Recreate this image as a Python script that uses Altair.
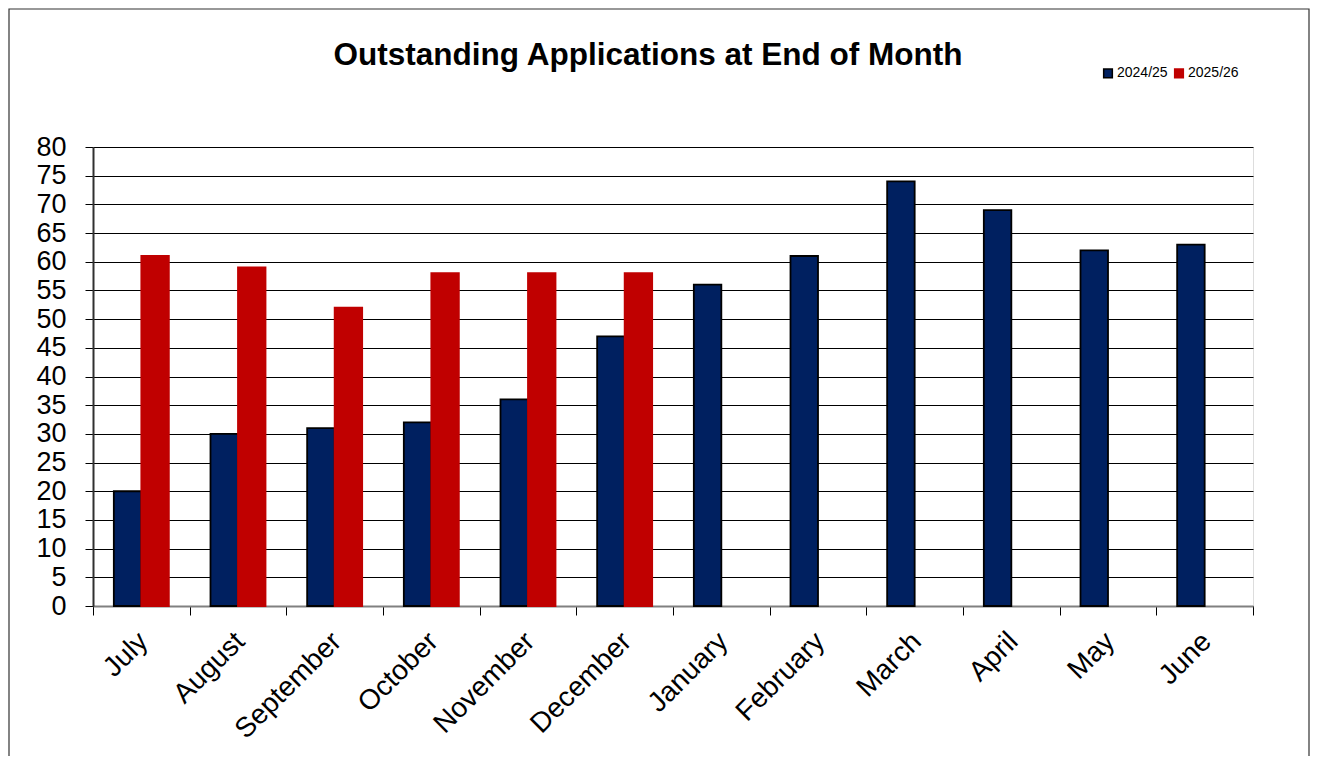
import altair as alt
import pandas as pd

months = ["July", "August", "September", "October", "November", "December",
          "January", "February", "March", "April", "May", "June"]
series_a = "2024/25"
series_b = "2025/26"
values_a = [20, 30, 31, 32, 36, 47, 56, 61, 74, 69, 62, 63]
values_b = [61, 59, 52, 58, 58, 58]
title_text = "Outstanding Applications at End of Month"

rows = []
for i, m in enumerate(months):
    rows.append({"month": m, "series": series_a, "value": values_a[i]})
    if i < len(values_b):
        rows.append({"month": m, "series": series_b, "value": values_b[i]})
df = pd.DataFrame(rows)

FONT = "Liberation Sans"
W, H = 1160, 459

leg = dict(orient="none", legendX=1008, legendY=-81, direction="horizontal",
           labelFont=FONT, labelFontSize=14, labelColor="black",
           symbolType="square", symbolSize=75, symbolStrokeWidth=1.5,
           columnPadding=3, labelOffset=2)

bars = alt.Chart(df).mark_bar(strokeWidth=1.8).encode(
    x=alt.X("month:N", sort=months, title=None,
            scale=alt.Scale(paddingInner=0, paddingOuter=0),
            axis=alt.Axis(labelAngle=-45, labelAlign="right", labelBaseline="middle",
                          labelFontSize=28, labelFont=FONT, labelColor="black",
                          labelPadding=22, labelOffset=2,
                          tickBand="extent", tickSize=9, tickColor="black",
                          domainColor="#808080", domainWidth=2, grid=False)),
    xOffset=alt.XOffset("series:N", sort=[series_a, series_b],
                        scale=alt.Scale(paddingInner=0, paddingOuter=0.757)),
    y=alt.Y("value:Q", title=None,
            scale=alt.Scale(domain=[0, 80], nice=False),
            axis=alt.Axis(values=list(range(0, 85, 5)), labelFontSize=27, labelFont=FONT,
                          labelColor="black", labelPadding=19, tickSize=8, tickColor="black",
                          domainColor="#303030", domainWidth=2,
                          grid=True, gridColor="black", gridWidth=1)),
    color=alt.Color("series:N", sort=[series_a, series_b], title=None,
                    scale=alt.Scale(domain=[series_a, series_b], range=["#002060", "#C00000"]),
                    legend=alt.Legend(**leg)),
    stroke=alt.Stroke("series:N", sort=[series_a, series_b], title=None,
                      scale=alt.Scale(domain=[series_a, series_b], range=["#000000", "#C00000"]),
                      legend=alt.Legend(**leg)),
)

frame = alt.Chart(pd.DataFrame({"v": [0]})).mark_rect(
    fillOpacity=0, stroke="#333333", strokeWidth=1.2, clip=False
).encode(
    x=alt.value(-84), x2=alt.value(1216), y=alt.value(-138), y2=alt.value(720)
)

title = alt.Chart(pd.DataFrame({"t": [title_text]})).mark_text(
    font=FONT, fontSize=31.5, fontWeight="bold", color="black",
    align="center", baseline="middle", clip=False
).encode(text="t:N", x=alt.value(555), y=alt.value(-91))

chart = alt.layer(frame, bars, title).properties(
    width=W, height=H,
    padding={"left": 85, "top": 139, "right": 58, "bottom": 150},
    autosize=alt.AutoSizeParams(type="none"),
).configure_view(
    stroke="#808080", strokeWidth=2
).configure(background="white")

chart.save("out.html", embed_options={"renderer": "svg", "actions": False})
